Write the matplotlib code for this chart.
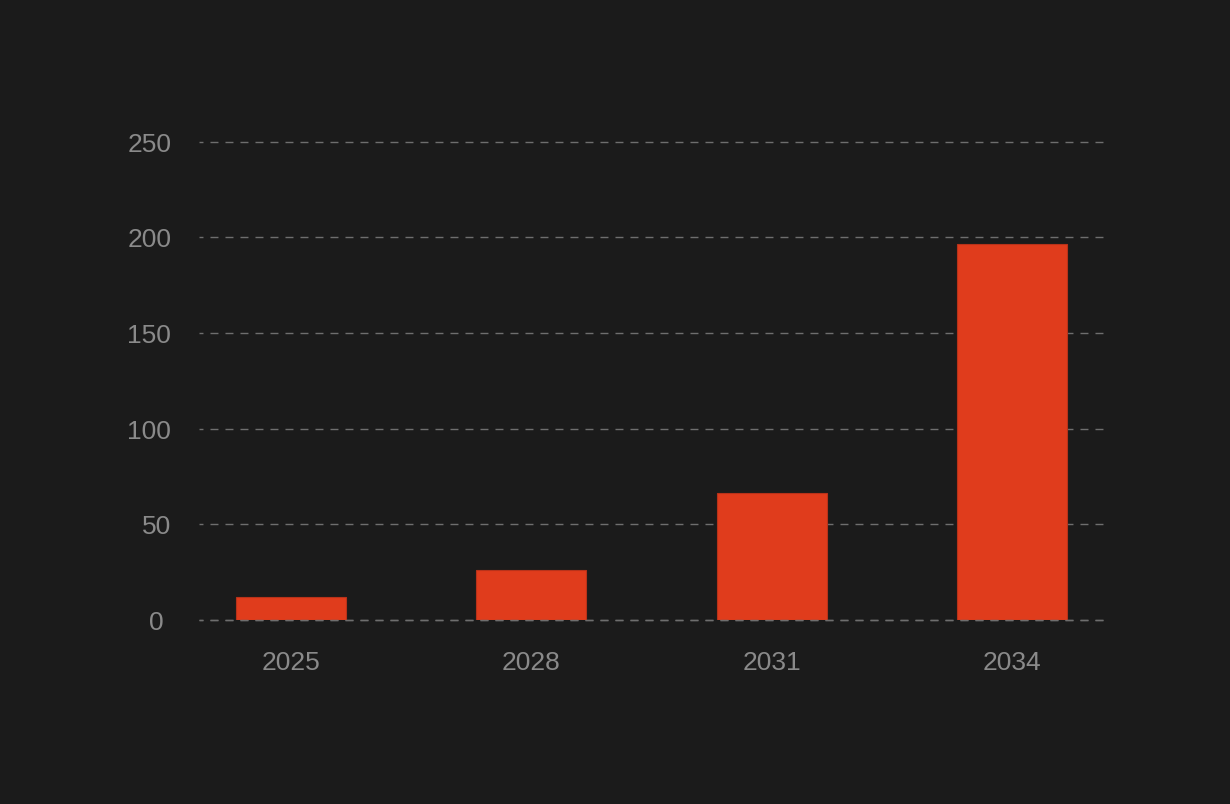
import matplotlib
matplotlib.use("Agg")
import matplotlib.pyplot as plt
import matplotlib.transforms as mtransforms

years = ["2025", "2028", "2031", "2034"]
values = [12.0, 26.2, 66.4, 196.7]
yticks = [0, 50, 100, 150, 200, 250]

bg = "#1b1b1b"
plt.rcParams['font.family'] = ['Liberation Sans', 'DejaVu Sans']

fig = plt.figure(figsize=(12.3, 8.045), dpi=100, facecolor=bg)
ax = fig.add_axes([199/1230, 1-620/804, (1104-199)/1230, (620-142)/804])
ax.set_facecolor(bg)

x = list(range(len(years)))
ax.bar(x, values, width=0.457, color="#e03c1c", edgecolor="#b8321a", linewidth=0.8, zorder=2)

ax.set_xlim(-0.3825, 3.3825)
ax.set_ylim(0, 250)
ax.set_yticks(yticks)
ax.set_xticks(x)
ax.set_xticklabels(years)
ax.tick_params(axis='both', length=0, labelsize=19, labelcolor="#8a8a8a")
ax.tick_params(axis='y', pad=20)
ax.tick_params(axis='x', pad=22)
for s in ax.spines.values():
    s.set_visible(False)
dash = (2.9, (5.76, 5.04))
ax.yaxis.grid(True, color="#6e6e6e", linewidth=1.0, linestyle=dash, zorder=1)
ax.set_axisbelow(True)
ax.axhline(0, color="#6e6e6e", linewidth=1.0, linestyle=dash, zorder=3, clip_on=False)
for gl in ax.get_ygridlines():
    gl.set_clip_on(False)

# the "0" label sits slightly left in the reference
zero_lab = ax.yaxis.get_major_ticks()[0].label1
zero_lab.set_transform(zero_lab.get_transform() +
                       mtransforms.ScaledTranslation(-8/100, 0, fig.dpi_scale_trans))

fig.savefig("out.png", dpi=100, facecolor=bg)
